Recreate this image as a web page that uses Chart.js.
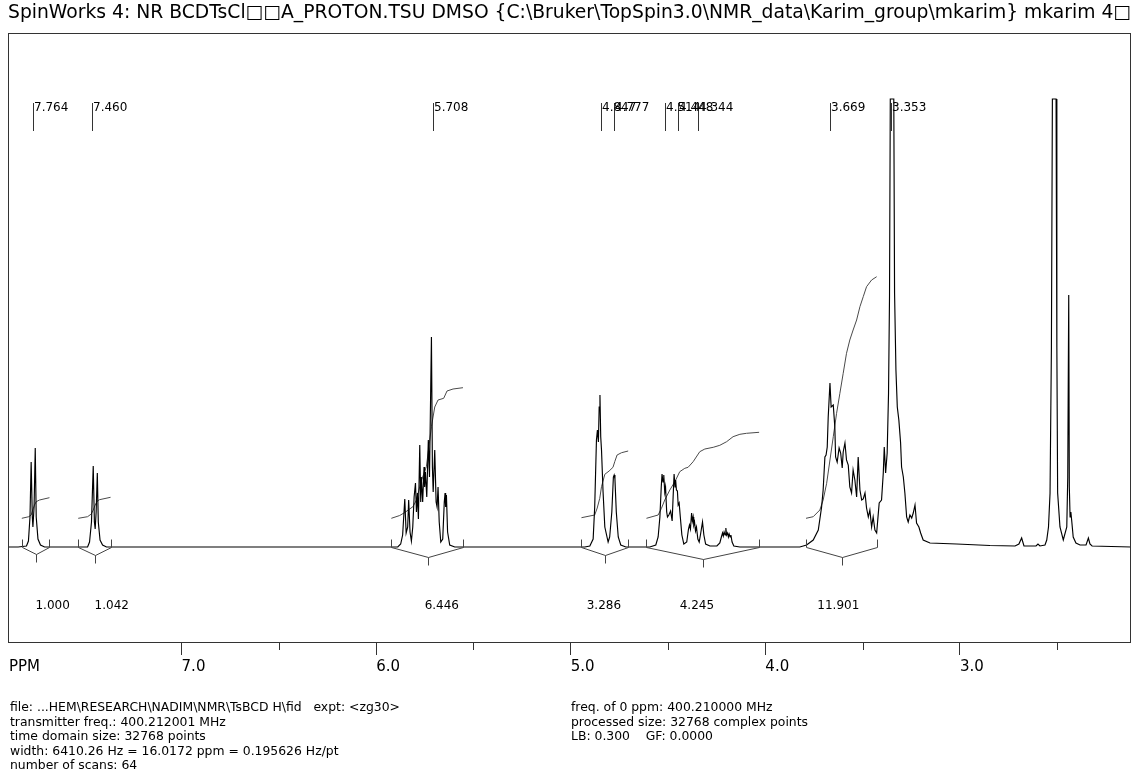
<!DOCTYPE html>
<html>
<head>
<meta charset="utf-8">
<title>SpinWorks 4 - PROTON</title>
<script src="https://cdn.jsdelivr.net/npm/chart.js@4.4.1/dist/chart.umd.min.js"></script>
<style>
  html, body { margin: 0; padding: 0; background: #fff; }
  canvas { display: block; }
</style>
</head>
<body>
<canvas id="nmr" width="1133" height="782"></canvas>
<script>
const titleText = 'SpinWorks 4: NR BCDTsCl\u25A1\u25A1A_PROTON.TSU DMSO {C:\\Bruker\\TopSpin3.0\\NMR_data\\Karim_group\\mkarim} mkarim 4\u25A1';

// displayed window, ppm
const ppmMin = 2.121;
const ppmMax = 7.892;

// picked peaks
const peakPpm = [7.764, 7.460, 5.708, 4.847, 4.777, 4.514, 4.448, 4.344, 3.669, 3.353];

// integration regions and their values
const integralFrom = [7.821, 7.531, 5.922, 4.945, 4.611, 3.791];
const integralTo = [7.679, 7.365, 5.554, 4.705, 4.032, 3.428];
const integralValues = ['1.000', '1.042', '6.446', '3.286', '4.245', '11.901'];

// 1H trace [ppm, intensity]; the two solvent lines run off the top of the window
const spectrum = [
  [7.892, 0], [7.840, 0],
  [7.797, 1], [7.787, 6], [7.779, 30], [7.773, 85], [7.767, 30], [7.764, 20], [7.758, 40],
  [7.752, 99], [7.747, 30], [7.738, 8], [7.725, 2], [7.704, 0],
  [7.600, 0],
  [7.483, 0], [7.473, 5], [7.463, 25], [7.454, 81], [7.448, 25], [7.444, 18], [7.439, 35],
  [7.433, 74], [7.428, 25], [7.419, 7], [7.406, 2], [7.386, 0],
  [6.500, 0], [5.889, 0],
  [5.874, 3], [5.864, 12], [5.853, 48], [5.846, 14], [5.838, 20], [5.833, 47], [5.826, 15],
  [5.819, 6], [5.812, 20], [5.805, 50], [5.798, 64], [5.793, 35], [5.788, 54], [5.783, 28],
  [5.776, 102], [5.771, 45], [5.768, 70], [5.761, 45], [5.754, 80], [5.751, 60], [5.747, 75],
  [5.740, 50], [5.732, 107], [5.726, 70], [5.716, 210], [5.711, 80], [5.707, 55], [5.699, 97],
  [5.692, 45], [5.687, 40], [5.682, 60], [5.676, 25], [5.668, 5], [5.658, 8], [5.650, 45],
  [5.646, 54], [5.643, 40], [5.639, 52], [5.633, 15], [5.622, 2], [5.596, 0],
  [5.000, 0], [4.928, 0],
  [4.902, 1], [4.885, 8], [4.877, 40], [4.868, 107], [4.863, 117], [4.858, 105], [4.854, 140],
  [4.850, 152], [4.846, 110], [4.842, 97], [4.834, 55], [4.825, 20], [4.808, 5], [4.800, 10],
  [4.789, 35], [4.781, 70], [4.777, 72], [4.773, 68], [4.766, 35], [4.756, 10], [4.743, 2],
  [4.717, 0],
  [4.594, 0], [4.563, 2], [4.551, 10], [4.542, 30], [4.535, 60], [4.531, 73], [4.526, 65],
  [4.522, 72], [4.517, 55], [4.513, 60], [4.507, 35], [4.503, 30], [4.496, 32], [4.487, 36],
  [4.479, 26], [4.474, 50], [4.469, 73], [4.464, 60], [4.461, 67], [4.457, 57], [4.452, 56],
  [4.448, 42], [4.443, 44], [4.437, 30], [4.429, 12], [4.419, 3], [4.404, 5], [4.395, 18],
  [4.390, 22], [4.385, 18], [4.379, 34], [4.375, 26], [4.371, 30], [4.368, 22], [4.364, 25],
  [4.359, 16], [4.354, 20], [4.347, 8], [4.340, 5], [4.332, 14], [4.323, 25], [4.316, 12],
  [4.307, 3], [4.285, 1], [4.249, 1], [4.234, 4], [4.226, 10], [4.220, 14], [4.216, 11],
  [4.212, 15], [4.207, 12], [4.203, 19], [4.199, 12], [4.194, 14], [4.190, 10], [4.186, 13],
  [4.181, 10], [4.177, 12], [4.171, 5], [4.162, 1], [4.131, 0],
  [3.900, 0], [3.823, 0],
  [3.788, 2], [3.754, 7], [3.728, 17], [3.711, 40], [3.703, 57], [3.694, 90], [3.688, 92],
  [3.682, 100], [3.677, 130], [3.668, 164], [3.662, 140], [3.651, 142], [3.643, 120],
  [3.639, 90], [3.631, 85], [3.621, 99], [3.613, 94], [3.605, 79], [3.600, 95], [3.591, 104],
  [3.583, 87], [3.574, 82], [3.566, 60], [3.557, 54], [3.549, 77], [3.540, 67], [3.531, 50],
  [3.523, 90], [3.514, 57], [3.505, 47], [3.497, 48], [3.488, 54], [3.480, 39], [3.471, 30],
  [3.463, 37], [3.454, 20], [3.446, 30], [3.437, 17], [3.428, 14], [3.422, 28], [3.415, 44],
  [3.403, 47], [3.394, 74], [3.389, 100], [3.382, 74], [3.374, 94], [3.367, 154], [3.362, 250],
  [3.358, 448], [3.340, 448], [3.336, 254], [3.329, 177], [3.322, 140], [3.314, 127],
  [3.305, 104], [3.300, 80], [3.291, 70], [3.283, 54], [3.274, 30], [3.266, 25], [3.257, 32],
  [3.248, 29], [3.240, 34], [3.231, 42], [3.223, 24], [3.211, 20], [3.202, 14], [3.189, 7],
  [3.154, 4], [3.017, 3], [2.846, 1.5], [2.717, 1], [2.697, 3], [2.683, 9], [2.671, 1],
  [2.609, 1], [2.599, 3], [2.589, 1], [2.563, 2], [2.554, 7], [2.545, 20], [2.537, 54],
  [2.530, 200], [2.525, 448], [2.506, 448], [2.502, 200], [2.498, 54], [2.486, 20], [2.469, 7],
  [2.451, 20], [2.446, 70], [2.441, 252], [2.438, 60], [2.434, 30], [2.430, 35], [2.426, 27],
  [2.418, 10], [2.404, 4], [2.383, 2], [2.352, 2], [2.340, 9], [2.332, 3], [2.321, 1],
  [2.121, 0]
];

// running integrals over each region
const integralA = [[7.821, 28.7], [7.785, 30.3], [7.773, 32], [7.765, 37], [7.756, 42], [7.747, 45.3], [7.730, 47], [7.679, 49.3]];
const integralB = [[7.531, 28.7], [7.483, 30.3], [7.464, 33], [7.454, 37], [7.444, 42], [7.433, 46], [7.422, 47.3], [7.365, 49.7]];
const integralC = [[5.922, 28.7], [5.879, 31.5], [5.853, 34.5], [5.828, 38], [5.811, 40.3], [5.793, 47], [5.776, 60.3],
  [5.759, 71], [5.742, 80.3], [5.729, 100.3], [5.716, 120.3], [5.699, 140], [5.682, 147], [5.653, 148.7],
  [5.636, 156], [5.605, 158], [5.554, 159.3]];
const integralD = [[4.945, 29.3], [4.877, 32], [4.864, 39], [4.851, 48.7], [4.842, 60.3], [4.825, 72.7], [4.803, 76],
  [4.783, 79.7], [4.774, 85.3], [4.762, 92], [4.739, 94.3], [4.705, 96]];
const integralE = [[4.611, 28.7], [4.551, 32], [4.534, 38.7], [4.517, 47], [4.491, 57], [4.465, 65.3], [4.440, 75.3],
  [4.414, 78.7], [4.397, 79.7], [4.371, 85.3], [4.337, 95.3], [4.311, 98], [4.268, 99.7], [4.234, 101.7],
  [4.199, 105.3], [4.166, 110.3], [4.131, 112.7], [4.097, 113.7], [4.032, 114.7]];
const integralF = [[3.791, 28.7], [3.754, 30.3], [3.720, 37], [3.703, 47], [3.685, 63.7], [3.668, 87], [3.651, 110.3],
  [3.634, 133.7], [3.617, 153.7], [3.600, 173.7], [3.583, 193.7], [3.566, 207], [3.549, 217], [3.531, 227],
  [3.514, 240.3], [3.497, 250.3], [3.480, 260.3], [3.454, 267], [3.428, 270.3]];

const infoLeft = [
  'file: ...HEM\\RESEARCH\\NADIM\\NMR\\TsBCD H\\fid   expt: <zg30>',
  'transmitter freq.: 400.212001 MHz',
  'time domain size: 32768 points',
  'width: 6410.26 Hz = 16.0172 ppm = 0.195626 Hz/pt',
  'number of scans: 64'
];
const infoRight = [
  'freq. of 0 ppm: 400.210000 MHz',
  'processed size: 32768 complex points',
  'LB: 0.300    GF: 0.0000'
];

const FONT = "'DejaVu Sans', Verdana, sans-serif";
const toXY = pts => pts.map(p => ({x: p[0], y: p[1]}));

// frame, peak picks, integral brackets/values, parameter block
const spectrumDecor = {
  id: 'spectrumDecor',
  afterDatasetsDraw(chart, args, opts) {
    const {ctx, chartArea: area} = chart;
    const xs = chart.scales.x, ys = chart.scales.y;
    const base = Math.round(ys.getPixelForValue(0)) + 0.5;
    ctx.save();

    // frame
    ctx.strokeStyle = '#333';
    ctx.lineWidth = 1;
    ctx.strokeRect(Math.round(area.left) + 0.5, Math.round(area.top) + 0.5,
      Math.round(area.right - area.left) - 1, Math.round(area.bottom - area.top));

    // half-ppm minor ticks (scale starts at 7.0)
    ctx.beginPath();
    xs.ticks.forEach(t => {
      if (Number.isInteger(t.value) || t.value > 7) return;
      const px = Math.round(xs.getPixelForValue(t.value)) + 0.5;
      ctx.moveTo(px, area.bottom);
      ctx.lineTo(px, area.bottom + 8);
    });
    ctx.stroke();

    // peak picks
    ctx.font = '12px ' + FONT;
    ctx.fillStyle = '#000';
    ctx.textBaseline = 'alphabetic';
    ctx.textAlign = 'left';
    ctx.beginPath();
    peakPpm.forEach(p => {
      const px = Math.round(xs.getPixelForValue(p)) + 0.5;
      ctx.moveTo(px, area.top + 70);
      ctx.lineTo(px, area.top + 98);
    });
    ctx.stroke();
    peakPpm.forEach(p => {
      const px = Math.round(xs.getPixelForValue(p));
      ctx.fillText(p.toFixed(3), px + 1, area.top + 78);
    });

    // integral brackets below the baseline
    ctx.strokeStyle = '#444';
    integralFrom.forEach((from, i) => {
      const x1 = Math.round(xs.getPixelForValue(from)) + 0.5;
      const x2 = Math.round(xs.getPixelForValue(integralTo[i])) + 0.5;
      const xm = Math.round((x1 + x2) / 2) + 0.5;
      const depth = Math.round(Math.min(12, 6 + (x2 - x1) * 0.05));
      ctx.beginPath();
      ctx.moveTo(x1, base - 8);
      ctx.lineTo(x1, base);
      ctx.lineTo(xm, base + depth);
      ctx.lineTo(x2, base);
      ctx.lineTo(x2, base - 8);
      ctx.moveTo(xm, base + depth);
      ctx.lineTo(xm, base + depth + 8);
      ctx.stroke();
    });
    ctx.textBaseline = 'middle';
    integralValues.forEach((v, i) => {
      ctx.fillText(v, xs.getPixelForValue(opts.labelAt[i]), base + 58);
    });

    // axis caption
    ctx.font = '15px ' + FONT;
    ctx.fillText('PPM', area.left + 1, area.bottom + 25);

    // acquisition / processing parameters
    ctx.font = '12.4px ' + FONT;
    infoLeft.forEach((s, i) => ctx.fillText(s, 10, 708 + i * 14.5));
    infoRight.forEach((s, i) => ctx.fillText(s, 571, 708 + i * 14.5));
    ctx.restore();
  }
};

const lineStyle = (color) => ({
  borderColor: color,
  borderWidth: 1,
  pointRadius: 0,
  tension: 0,
  fill: false
});

const integralSets = [integralA, integralB, integralC, integralD, integralE, integralF].map(pts =>
  Object.assign({data: toXY(pts)}, lineStyle('#4a4a4a')));

new Chart(document.getElementById('nmr'), {
  type: 'line',
  data: {
    datasets: [Object.assign({data: toXY(spectrum)}, lineStyle('#000'), {borderWidth: 1.15})].concat(integralSets)
  },
  options: {
    responsive: false,
    animation: false,
    parsing: false,
    normalized: true,
    layout: {padding: {left: 8, right: 2, top: 0, bottom: 0}},
    plugins: {
      legend: {display: false},
      tooltip: {enabled: false},
      title: {
        display: true,
        text: titleText,
        align: 'start',
        color: '#000',
        font: {family: FONT, size: 18.75, weight: 'normal', lineHeight: 1},
        padding: {top: 4, bottom: 10.25}
      },
      spectrumDecor: {
        // left edge of each integral value, ppm
        labelAt: [7.751, 7.447, 5.751, 4.918, 4.440, 3.733]
      }
    },
    scales: {
      x: {
        type: 'linear',
        reverse: true,
        min: ppmMin,
        max: ppmMax,
        border: {display: false},
        grid: {
          drawOnChartArea: false,
          tickLength: 13,
          tickColor: c => Number.isInteger(c.tick && c.tick.value) ? '#333' : 'rgba(0,0,0,0)'
        },
        ticks: {
          stepSize: 0.5,
          includeBounds: false,
          autoSkip: false,
          maxTicksLimit: 30,
          maxRotation: 0,
          align: 'start',
          padding: 3,
          color: '#000',
          font: {family: FONT, size: 15},
          callback: v => Number.isInteger(v) ? v.toFixed(1) : ''
        },
        afterFit: s => { s.height = 140; }
      },
      y: {
        display: false,
        min: -95,
        max: 514
      }
    }
  },
  plugins: [spectrumDecor]
});
</script>
</body>
</html>
